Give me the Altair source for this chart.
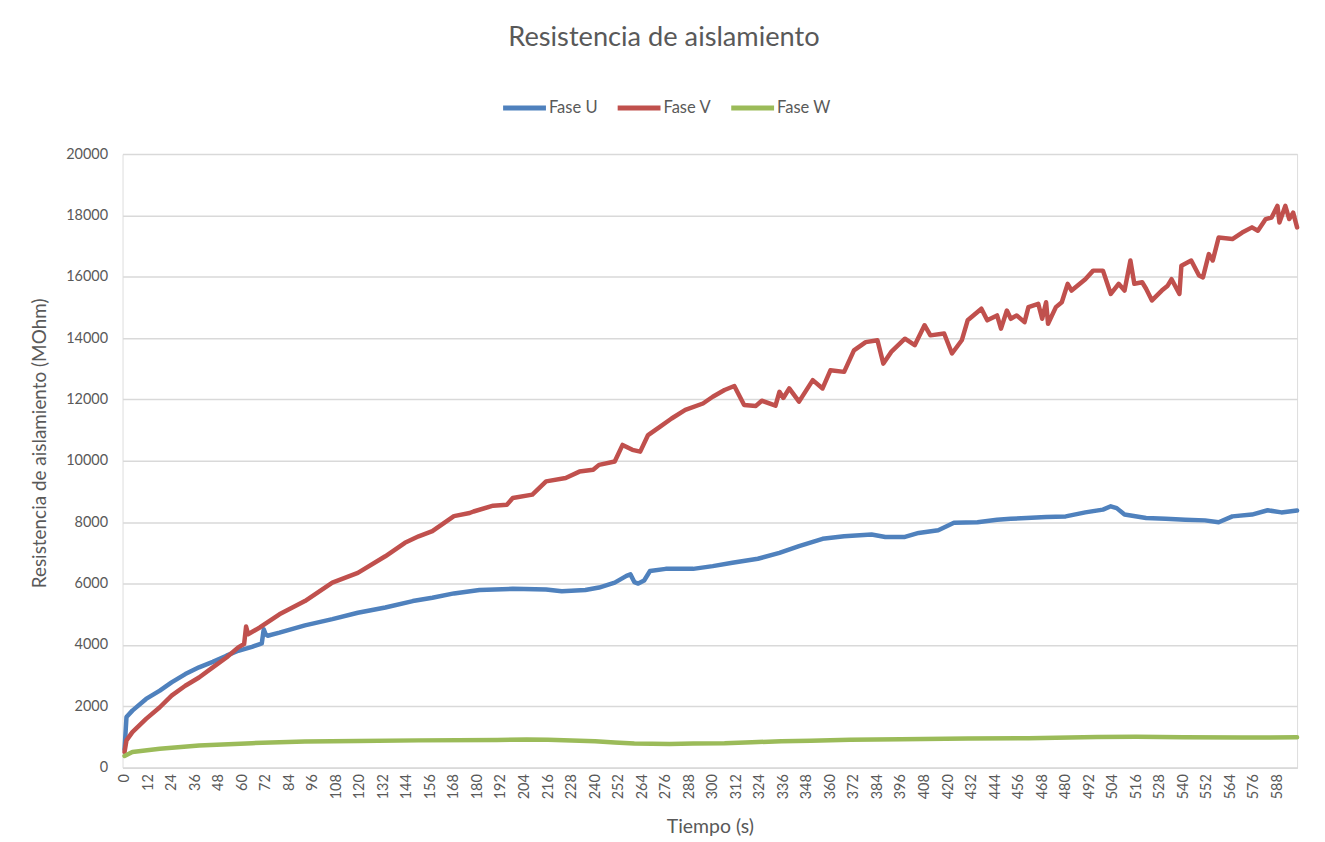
import altair as alt
import pandas as pd

# ---- data ----
t_u = [0, 1, 4, 11, 18, 24, 31, 38, 45, 52, 58, 65, 69, 70, 71, 72, 73, 79, 92, 106,
       119, 133, 147, 157, 168, 181, 198, 215, 223, 235, 242, 250, 256, 258, 260, 262,
       265, 268, 276, 290, 300, 310, 323, 334, 344, 356, 367, 381, 388, 398, 405, 415,
       423, 435, 445, 452, 460, 470, 480, 490, 499, 503, 506, 510, 521, 531, 541, 551,
       558, 565, 575, 583, 590, 598]
fase_u = [600, 1650, 1860, 2240, 2510, 2780, 3050, 3270, 3450, 3650, 3810, 3940, 4030,
          4050, 4510, 4350, 4300, 4400, 4640, 4840, 5050, 5220, 5430, 5540, 5680, 5790,
          5830, 5810, 5750, 5790, 5870, 6030, 6250, 6300, 6050, 6000, 6100, 6410, 6480,
          6480, 6570, 6680, 6810, 7000, 7220, 7460, 7540, 7600, 7520, 7520, 7650, 7740,
          7980, 8000, 8080, 8110, 8140, 8170, 8190, 8320, 8410, 8520, 8460, 8250, 8140,
          8110, 8080, 8060, 8000, 8190, 8250, 8390, 8320, 8380]

t_v = [0, 1, 4, 11, 18, 24, 31, 38, 45, 52, 58, 61, 62, 63, 69, 79, 92, 106, 119, 133,
       143, 150, 157, 168, 176, 178, 188, 195, 198, 208, 215, 225, 232, 239, 242, 250,
       254, 259, 263, 267, 273, 279, 286, 295, 300, 306, 311, 316, 322, 325, 332, 334,
       336, 339, 344, 351, 356, 360, 367, 372, 378, 384, 387, 391, 398, 403, 408, 411,
       418, 422, 427, 430, 437, 440, 445, 447, 450, 452, 455, 459, 461, 466, 468, 470,
       471, 475, 478, 481, 483, 490, 494, 499, 503, 507, 510, 513, 515, 519, 521, 524,
       529, 532, 534, 538, 539, 544, 548, 550, 553, 555, 558, 565, 570, 575, 578, 582,
       585, 588, 589, 592, 594, 596, 598]
fase_v = [510, 890, 1160, 1590, 1970, 2350, 2670, 2940, 3270, 3590, 3920, 4030, 4600,
          4350, 4570, 5000, 5430, 6030, 6350, 6890, 7330, 7540, 7710, 8200, 8300, 8350,
          8540, 8570, 8790, 8900, 9330, 9440, 9650, 9710, 9870, 9980, 10520, 10360, 10300,
          10840, 11110, 11380, 11660, 11870, 12090, 12310, 12440, 11820, 11790, 11960,
          11800, 12250, 12050, 12360, 11930, 12630, 12360, 12950, 12900, 13600, 13870,
          13930, 13170, 13550, 13980, 13770, 14420, 14090, 14150, 13500, 13930, 14580,
          14960, 14580, 14740, 14310, 14900, 14630, 14740, 14520, 15010, 15120, 14630,
          15170, 14470, 15010, 15170, 15770, 15550, 15920, 16200, 16200, 15440, 15770,
          15550, 16530, 15770, 15820, 15610, 15230, 15550, 15710, 15920, 15440, 16360,
          16530, 16040, 15980, 16740, 16530, 17280, 17230, 17440, 17610, 17500, 17880,
          17930, 18310, 17770, 18310, 17880, 18090, 17610]

t_w = [0, 4, 18, 38, 65, 92, 119, 150, 190, 205, 216, 240, 250, 260, 278, 290, 306, 320,
       335, 350, 370, 396, 430, 461, 496, 516, 540, 570, 598]
fase_w = [380, 510, 620, 720, 800, 850, 870, 890, 900, 920, 910, 860, 820, 790, 770, 790,
          800, 830, 860, 880, 910, 930, 950, 960, 1000, 1010, 990, 980, 990]

series_names = ["Fase U", "Fase V", "Fase W"]
series_colors = ["#4f81bd", "#c0504d", "#9bbb59"]
x_ticks = list(range(0, 589, 12))
y_ticks = list(range(0, 20001, 2000))

rows = []
for name, ts, vs in zip(series_names, [t_u, t_v, t_w], [fase_u, fase_v, fase_w]):
    for t, v in zip(ts, vs):
        rows.append({"serie": name, "t": t, "v": v})
df = pd.DataFrame(rows)

FONT = "Lato"
GREY = "#595959"

chart = alt.Chart(df).mark_line(strokeWidth=4.5, strokeJoin="round", strokeCap="round").encode(
    x=alt.X("t:Q",
            scale=alt.Scale(domain=[-1, 598], nice=False, zero=False),
            axis=alt.Axis(values=x_ticks, labelAngle=-90, title="Tiempo (s)",
                          grid=False, domainColor="#d9d9d9", domainWidth=1.5,
                          ticks=False, labelPadding=6, labelFontSize=14.5,
                          labelColor=GREY, titleColor=GREY, titleFontSize=19.5,
                          titleFontWeight="normal", titleY=59, titleBaseline="middle",
                          labelFont=FONT, titleFont=FONT, labelFlush=False,
                          labelOverlap=False)),
    y=alt.Y("v:Q",
            scale=alt.Scale(domain=[0, 20000], nice=False),
            axis=alt.Axis(values=y_ticks, format="d",
                          title="Resistencia de aislamiento (MOhm)",
                          domain=False, ticks=False, gridColor="#d9d9d9",
                          gridWidth=1.5, labelPadding=15, labelFontSize=14.5,
                          labelColor=GREY, titleColor=GREY, titleFontSize=19,
                          titleFontWeight="normal", titleX=-83, titleY=290,
                          titleBaseline="middle", titleAlign="center",
                          labelFont=FONT, titleFont=FONT)),
    color=alt.Color("serie:N",
                    scale=alt.Scale(domain=series_names, range=series_colors),
                    legend=alt.Legend(title=None, orient="none", direction="horizontal",
                                      legendX=379, legendY=-71,
                                      symbolType="stroke", symbolSize=1850,
                                      symbolStrokeWidth=5, labelFontSize=16.6,
                                      labelColor=GREY, labelFont=FONT,
                                      columnPadding=9, labelOffset=0)),
    order=alt.Order("t:Q"),
).properties(
    width=1179,
    height=616,
    title=alt.TitleParams("Resistencia de aislamiento", fontSize=27.3, font=FONT,
                          color=GREY, fontWeight="normal", anchor="middle",
                          frame="group", dx=-46, offset=32),
    autosize=alt.AutoSizeParams(type="none"),
    padding={"left": 115, "top": 145, "right": 20, "bottom": 70},
).configure_view(stroke=None).configure(background="white")

chart.save("out.html", embed_options={"renderer": "svg", "actions": False})
